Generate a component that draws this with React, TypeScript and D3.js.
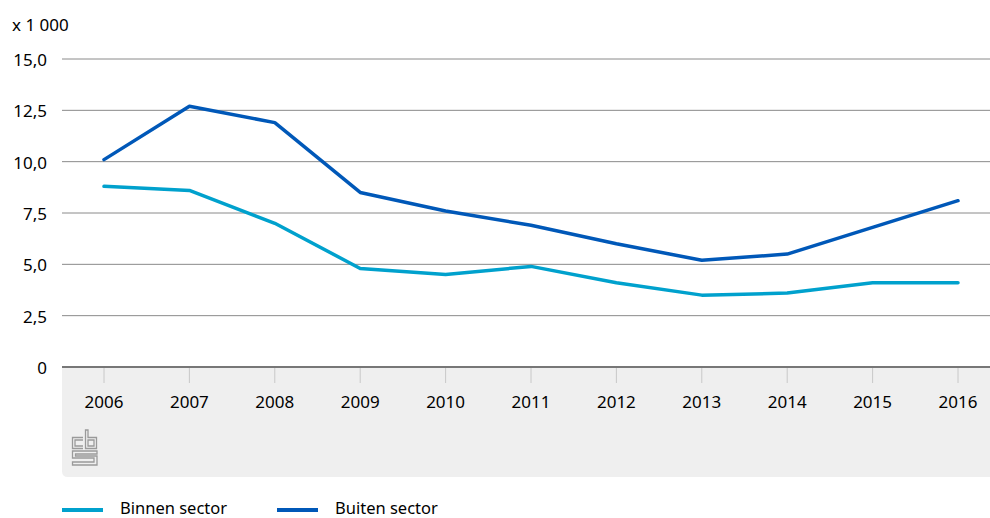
import React from 'react';
import * as d3 from 'd3';

// Data (x 1 000)
const years = ['2006', '2007', '2008', '2009', '2010', '2011', '2012', '2013', '2014', '2015', '2016'];
const binnenSector = [8.8, 8.6, 7.0, 4.8, 4.5, 4.9, 4.1, 3.5, 3.6, 4.1, 4.1];
const buitenSector = [10.1, 12.7, 11.9, 8.5, 7.6, 6.9, 6.0, 5.2, 5.5, 6.8, 8.1];
const yTicks = [0, 2.5, 5, 7.5, 10, 12.5, 15];
const seriesNames = ['Binnen sector', 'Buiten sector'];
const seriesColors = ['#00a1cd', '#0058b8'];

const width = 990;
const height = 518;
const font = '"Noto Sans", sans-serif';

const App = () => {
  // Scales
  const x = d3.scalePoint<string>().domain(years).range([104, 958]);
  const y = d3.scaleLinear().domain([0, 15]).range([367, 59]);

  const line = d3
    .line<number>()
    .x((_, i) => x(years[i]) as number)
    .y((d) => y(d));

  const fmt = (v: number) => (v === 0 ? '0' : v.toFixed(1).replace('.', ','));
  const series = [binnenSector, buitenSector];

  return (
    <svg width={width} height={height} style={{ position: 'absolute', left: 0, top: 0 }}>
      {/* gray x-axis panel */}
      <path d="M62,367 H990 V477 H68 Q62,477 62,471 Z" fill="#efefef" />

      {/* unit label */}
      <text x={12} y={31} fontFamily={font} fontSize={17} fill="#000">x 1 000</text>

      {/* gridlines + y labels */}
      {yTicks.map((t) => (
        <g key={t}>
          {t !== 0 && (
            <line x1={62} x2={990} y1={y(t)} y2={y(t)} stroke="#8a8a8a" strokeWidth={1} />
          )}
          <text x={47} y={y(t) + 7} textAnchor="end" fontFamily={font} fontSize={17} fill="#000">
            {fmt(t)}
          </text>
        </g>
      ))}

      {/* x axis */}
      <line x1={62} x2={990} y1={367} y2={367} stroke="#777" strokeWidth={2} />
      {years.map((yr) => (
        <g key={yr}>
          <line x1={x(yr)} x2={x(yr)} y1={368} y2={383} stroke="#c8c8c8" strokeWidth={1} />
          <text x={x(yr)} y={408} textAnchor="middle" fontFamily={font} fontSize={17} fill="#000">
            {yr}
          </text>
        </g>
      ))}

      {/* cbs logo */}
      <g fill="none" stroke="#9a9a9a" strokeWidth={1.3}>
        <path d="M83,437.5 H72.5 V448.5 H83 M83,446 H75 V440 H83" />
        <path d="M85.5,430 V448.5 H96.5 V437.5 H88 V430 Z M88,440 H94 V446 H88 Z" />
        <path d="M97,451 H72.5 V458 H94 V462 H72.5 V465 H97 V456 H75.5 V454 H97 Z" />
      </g>

      {/* lines */}
      {series.map((s, i) => (
        <path
          key={seriesNames[i]}
          d={line(s) ?? ''}
          fill="none"
          stroke={seriesColors[i]}
          strokeWidth={3.5}
          strokeLinejoin="round"
          strokeLinecap="round"
        />
      ))}

      {/* legend */}
      {seriesNames.map((n, i) => {
        const lx = 62 + i * 215;
        return (
          <g key={n}>
            <line x1={lx} x2={lx + 41} y1={510} y2={510} stroke={seriesColors[i]} strokeWidth={4} />
            <text x={lx + 58} y={514} fontFamily={font} fontSize={16.5} fill="#000">{n}</text>
          </g>
        );
      })}
    </svg>
  );
};

export default App;
